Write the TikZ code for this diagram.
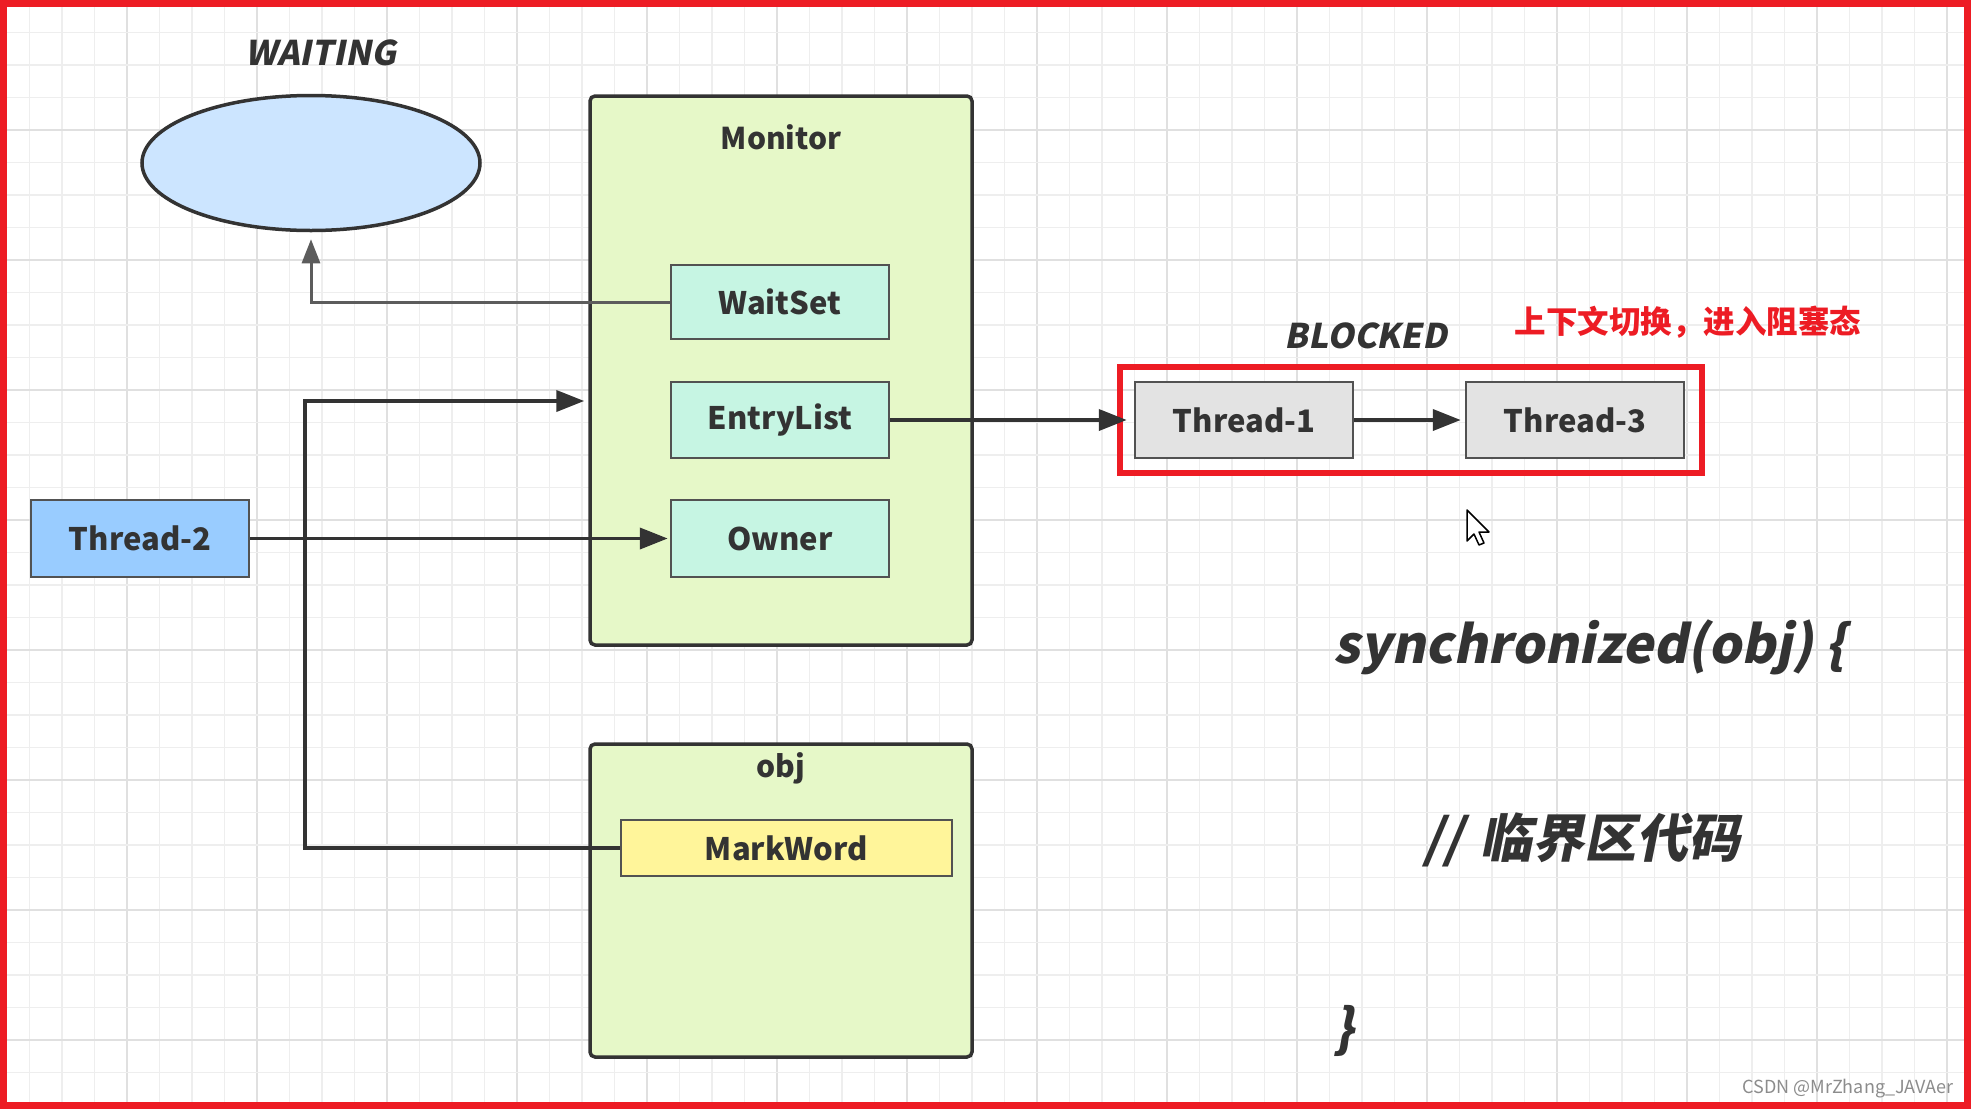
\documentclass[tikz,border=0pt]{standalone}
\usepackage{fontspec}
\setmainfont{Noto Sans CJK SC}
\newfontfamily\slfont[FakeSlant=0.2]{Noto Sans CJK SC}
\usetikzlibrary{arrows.meta,shapes.geometric}
\definecolor{txt}{HTML}{333333}
\definecolor{edge}{HTML}{333333}
\definecolor{gridminor}{HTML}{EEEEEE}
\definecolor{gridmajor}{HTML}{E0E0E0}
\definecolor{redframe}{HTML}{ED1C24}
\definecolor{ellfill}{HTML}{CCE5FF}
\definecolor{monfill}{HTML}{E6F8C8}
\definecolor{mint}{HTML}{C6F5E3}
\definecolor{t2fill}{HTML}{99CCFF}
\definecolor{grayfill}{HTML}{E3E3E3}
\definecolor{yellowfill}{HTML}{FFF59A}
\tikzset{
  container/.style={draw=edge, line width=3.5pt, rounded corners=5pt, fill=monfill},
  boxnode/.style={draw=edge!85, line width=2.5pt, minimum width=218pt, minimum height=76pt,
    font=\fontsize{31}{34}\selectfont\bfseries, text=txt, inner sep=0pt},
  title/.style={font=\fontsize{30}{33}\selectfont\bfseries, text=txt},
  state/.style={font=\fontsize{34}{37}\slfont\bfseries, text=txt},
  code/.style={font=\fontsize{52}{56}\slfont\bfseries, text=txt},
  conn/.style={draw=edge, line width=3.8pt, -{Triangle[length=28pt,width=21pt]}},
  thinconn/.style={draw=edge!80, line width=3pt, -{Triangle[length=24pt,width=18pt]}},
}
\begin{document}
\begin{tikzpicture}[x=1pt,y=-1pt]
\useasboundingbox (0,0) rectangle (1971,1109);
\fill[white] (0,0) rectangle (1971,1109);
% grid
\foreach \k in {0,...,60} {
  \pgfmathsetmacro\xx{29.5+\k*32.5}
  \pgfmathtruncatemacro\mm{mod(\k,4)}
  \ifnum\mm=3
    \draw[gridmajor, line width=1.8pt] (\xx,0) -- (\xx,1109);
  \else
    \draw[gridminor, line width=1.5pt] (\xx,0) -- (\xx,1109);
  \fi
}
\foreach \k in {1,...,34} {
  \pgfmathsetmacro\yy{\k*32.5}
  \pgfmathtruncatemacro\mm{mod(\k,4)}
  \ifnum\mm=0
    \draw[gridmajor, line width=1.8pt] (0,\yy) -- (1971,\yy);
  \else
    \draw[gridminor, line width=1.5pt] (0,\yy) -- (1971,\yy);
  \fi
}

% WAITING
\node[state] (waitlbl) at (321,53) {WAITING};
\node[ellipse, draw=edge, line width=3.5pt, fill=ellfill, minimum width=338pt, minimum height=135pt, inner sep=0pt] (waiting) at (311,163) {};

% Monitor
\node[container, minimum width=382pt, minimum height=549pt] (monitor) at (781,370.5) {};
\node[title] (montitle) at (781,137) {Monitor};
\node[boxnode, fill=mint, minimum height=74pt] (waitset) at (780,302) {WaitSet};
\node[boxnode, fill=mint] (entry) at (780,420) {EntryList};
\node[boxnode, fill=mint, minimum height=77pt] (owner) at (780,538.5) {Owner};

% obj
\node[container, minimum width=382pt, minimum height=313pt] (obj) at (781,900.5) {};
\node[title] (objtitle) at (781,768) {obj};
\node[boxnode, fill=yellowfill, minimum width=331pt, minimum height=56pt] (markword) at (786.5,848) {MarkWord};

% Thread-2
\node[boxnode, fill=t2fill, minimum height=77pt] (t2) at (140,538.5) {Thread-2};

% blocked
\node[state] (blocklbl) at (1366,336) {BLOCKED};
\node[font=\fontsize{31.5}{35}\selectfont\bfseries, text=redframe] (ctx) at (1688,322) {上下文切换，进入阻塞态};
\node[boxnode, fill=grayfill] (t1) at (1244,420) {Thread-1};
\node[boxnode, fill=grayfill] (t3) at (1575,420) {Thread-3};
\node[draw=redframe, line width=5.5pt, minimum width=582pt, minimum height=106pt] (redbox) at (1411,420) {};

% connectors
\draw[thinconn, shorten >=7pt] (waitset.west) -| (waiting.south);
\coordinate (jog) at (305,401);
\draw[conn, shorten >=4pt] (markword.west) -| (jog) -- (monitor.west |- jog);
\draw[conn, shorten >=2pt] (t2.east) -- (owner.west);
\draw[conn, shorten >=7pt] (entry.east) -- (t1.west);
\draw[conn, shorten >=4pt] (t1.east) -- (t3.west);

% code
\node[code, anchor=west] (sync) at (1330,647) {synchronized(obj) \{};
\node[code, anchor=west] (crit) at (1420,840) {//\,\,临界区代码};
\node[code, anchor=west] (close) at (1330,1031) {\}};

% cursor
\draw[black, line width=1.5pt, fill=white, line join=round]
  (1467,510) -- (1467,541) -- (1474,534) -- (1479,545) -- (1484,543) -- (1479,532) -- (1489,532) -- cycle;

% watermark
\node[anchor=east, font=\fontsize{18}{20}\selectfont, text=black!45] (wm) at (1957,1089) {CSDN @MrZhang\_JAVAer};

% red frame
\draw[redframe, line width=7pt] (3.5,3.5) rectangle (1967.5,1105.5);
\end{tikzpicture}
\end{document}
